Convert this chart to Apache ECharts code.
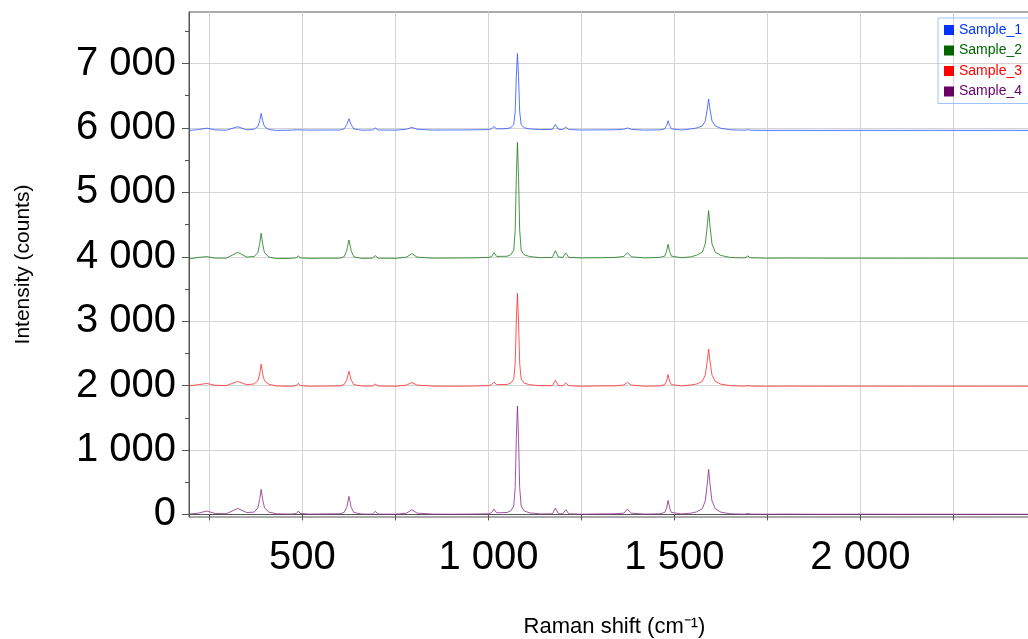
<!DOCTYPE html>
<html>
<head>
<meta charset="utf-8">
<script src="https://cdn.jsdelivr.net/npm/echarts@6.0.0/dist/echarts.min.js"></script>
<style>
  html, body { margin: 0; padding: 0; background: #fff; }
  #chart { width: 1028px; height: 639px; }
</style>
</head>
<body>
<div id="chart"></div>
<script>
// Raman shift positions (cm-1) shared by all four spectra
const ramanShift = [
  195, 220, 243, 265, 295, 326, 350, 370, 380, 385, 389, 393, 398, 410, 430,
  470, 484, 489, 494, 520, 560, 600, 612, 619, 625, 631, 638, 660,
  688, 696, 704, 750, 780, 794, 808, 850, 900, 950, 1000,
  1008, 1015, 1022, 1050, 1060, 1068, 1072, 1075, 1078, 1081, 1084, 1088, 1096, 1110, 1140,
  1172, 1180, 1188, 1200, 1208, 1216, 1250, 1300, 1340,
  1364, 1374, 1384, 1420, 1460, 1474, 1479, 1483, 1487, 1492, 1520,
  1545, 1560, 1575, 1583, 1588, 1592, 1596, 1601, 1610, 1625, 1650, 1680,
  1690, 1697, 1704, 1750, 1800, 1900, 2000, 2100, 2200, 2300, 2400, 2452
]

const sample1 = [
  5960, 5975, 5996, 5970, 5965, 6019, 5970, 5980, 6020, 6110, 6225, 6110, 6020, 5975, 5962,
  5965, 5972, 6000, 5970, 5966, 5968, 5968, 5985, 6050, 6143, 6050, 5985, 5965,
  5968, 6000, 5968, 5966, 5980, 6008, 5980, 5967, 5968, 5970, 5975,
  5985, 6023, 5985, 5990, 6005, 6050, 6260, 6800, 7154, 6800, 6260, 6050, 6005, 5985, 5975,
  5978, 6055, 5980, 5975, 6014, 5975, 5968, 5970, 5972,
  5980, 6000, 5978, 5966, 5970, 5985, 6040, 6112, 6040, 5985, 5968,
  5985, 6000, 6030, 6110, 6280, 6449, 6280, 6110, 6030, 5995, 5972, 5966,
  5965, 5975, 5965, 5962, 5963, 5962, 5963, 5962, 5963, 5962, 5963, 5962
]

const sample2 = [
  3966, 3990, 4002, 3980, 3978, 4070, 3995, 4005, 4060, 4200, 4366, 4200, 4060, 3995, 3972,
  3975, 3985, 4017, 3982, 3975, 3978, 3978, 4000, 4095, 4261, 4095, 4000, 3975,
  3978, 4017, 3978, 3975, 3995, 4048, 3995, 3978, 3980, 3982, 3990,
  4000, 4064, 4005, 4008, 4030, 4100, 4420, 5230, 5775, 5230, 4420, 4100, 4030, 4005, 3985,
  3990, 4095, 3995, 3990, 4059, 3990, 3982, 3985, 3990,
  4005, 4064, 4000, 3982, 3990, 4010, 4085, 4194, 4085, 4010, 3985,
  4000, 4025, 4070, 4200, 4460, 4717, 4460, 4200, 4070, 4020, 3990, 3982,
  3985, 4012, 3985, 3978, 3980, 3978, 3978, 3977, 3978, 3977, 3978, 3977
]

const sample3 = [
  1995, 2015, 2033, 2005, 2000, 2064, 2015, 2025, 2075, 2180, 2333, 2180, 2075, 2020, 1995,
  1990, 2005, 2037, 2000, 1990, 1992, 1995, 2015, 2085, 2224, 2085, 2015, 1993,
  1993, 2022, 1993, 1990, 2008, 2048, 2008, 1992, 1990, 1992, 2000,
  2015, 2053, 2015, 2018, 2038, 2100, 2350, 2990, 3432, 2990, 2350, 2100, 2038, 2015, 1998,
  2000, 2084, 2002, 1998, 2042, 1998, 1990, 1995, 1995,
  2010, 2048, 2008, 1990, 1995, 2015, 2070, 2172, 2070, 2015, 1995,
  2010, 2025, 2065, 2165, 2365, 2566, 2365, 2165, 2065, 2022, 2000, 1993,
  1993, 2000, 1993, 1990, 1992, 1990, 1992, 1990, 1991, 1990, 1991, 1990
]

const sample4 = [
  5, 20, 52, 15, 10, 93, 30, 35, 100, 235, 389, 235, 100, 35, 10,
  5, 15, 52, 15, 5, 8, 10, 30, 110, 280, 110, 30, 5,
  5, 47, 5, 3, 20, 73, 20, 5, 3, 5, 10,
  25, 83, 25, 30, 55, 130, 420, 1180, 1684, 1180, 420, 130, 55, 25, 8,
  10, 98, 12, 8, 73, 10, 3, 8, 10,
  20, 83, 20, 5, 10, 30, 100, 218, 100, 30, 8,
  20, 40, 90, 210, 455, 700, 455, 210, 90, 35, 10, 5,
  5, 15, 5, 3, 5, 2, 4, 2, 3, 2, 3, 2
]

const sampleNames = ['Sample_1', 'Sample_2', 'Sample_3', 'Sample_4']
const sampleColors = ['#2a55ff', '#1a7a1a', '#ff2a2a', '#8a2a8a']
const legendColors = ['#0033ff', '#006400', '#ff0000', '#660066']

const xTickValues = [250, 500, 750, 1000, 1250, 1500, 1750, 2000, 2250]
const xLabelValues = [500, 1000, 1500, 2000]
const yGridValues = [0, 500, 1000, 1500, 2000, 2500, 3000, 3500, 4000, 4500, 5000, 5500, 6000, 6500, 7000, 7500]
const yLabelValues = [0, 1000, 2000, 3000, 4000, 5000, 6000, 7000]
const yMinorValues = [500, 1500, 2500, 3500, 4500, 5500, 6500, 7500]

const FONT = '"Liberation Sans Narrow", "Liberation Sans", Arial, sans-serif'

// 7000 -> "7 000"
function spaced(v) {
  return String(v).replace(/\B(?=(\d{3})+(?!\d))/g, ' ')
}

const allSamples = [sample1, sample2, sample3, sample4]

const chart = echarts.init(document.getElementById('chart'), null, { renderer: 'canvas' })

chart.setOption({
  animation: false,
  grid: {
    left: 189,
    right: -2,
    top: 12,
    bottom: 122,
    outerBoundsMode: 'none',
    show: true,
    borderColor: '#555',
    borderWidth: 1,
    backgroundColor: 'transparent'
  },
  legend: {
    orient: 'vertical',
    left: 938,
    top: 18,
    padding: [4, 20, 4, 6],
    itemWidth: 10,
    itemHeight: 10,
    itemGap: 4.5,
    borderColor: '#9cc3ff',
    borderWidth: 1,
    icon: 'rect',
    textStyle: { fontFamily: FONT, fontSize: 14, lineHeight: 16 },
    data: sampleNames.map((n, i) => ({
      name: n,
      itemStyle: { color: legendColors[i] },
      textStyle: { color: legendColors[i] }
    }))
  },
  xAxis: {
    type: 'value',
    min: 195,
    max: 2456,
    name: 'Raman shift (cm\u207B\u00B9)',
    nameLocation: 'middle',
    nameGap: 99,
    nameTextStyle: { fontFamily: FONT, fontSize: 22, color: '#000', padding: [0, 0, 0, 10] },
    axisLine: { show: true, lineStyle: { color: '#555', width: 1 } },
    axisTick: {
      show: true,
      inside: false,
      length: 6,
      customValues: xTickValues,
      lineStyle: { color: '#555' }
    },
    axisLabel: {
      customValues: xLabelValues,
      formatter: spaced,
      fontFamily: FONT,
      fontSize: 40,
      color: '#000',
      margin: 21
    },
    splitLine: {
      show: true,
      customValues: xTickValues,
      lineStyle: { color: '#d4d4d4', width: 1 }
    }
  },
  yAxis: [{
    type: 'value',
    min: -40,
    max: 7800,
    name: 'Intensity (counts)',
    nameLocation: 'middle',
    nameGap: 155,
    nameTextStyle: { fontFamily: FONT, fontSize: 21, color: '#000' },
    axisLine: { show: true, lineStyle: { color: '#555', width: 1 } },
    axisTick: {
      show: true,
      length: 7,
      customValues: yLabelValues,
      lineStyle: { color: '#555' }
    },
    axisLabel: {
      customValues: yLabelValues,
      formatter: spaced,
      fontFamily: FONT,
      fontSize: 40,
      color: '#000',
      margin: 13
    },
    splitLine: {
      show: true,
      customValues: yGridValues,
      lineStyle: { color: '#d4d4d4', width: 1 }
    }
  }, {
    // short ticks at the half-thousands
    type: 'value',
    min: -40,
    max: 7800,
    position: 'left',
    axisLine: { show: false },
    axisTick: {
      show: true,
      length: 4,
      customValues: yMinorValues,
      lineStyle: { color: '#555' }
    },
    axisLabel: { show: false },
    splitLine: { show: false }
  }],
  series: sampleNames.map((n, i) => ({
    name: n,
    type: 'line',
    showSymbol: false,
    symbol: 'none',
    color: legendColors[i],
    lineStyle: { color: sampleColors[i], width: 1, opacity: 0.8 },
    data: ramanShift.map((x, k) => [x, allSamples[i][k]])
  }))
})
</script>
</body>
</html>
